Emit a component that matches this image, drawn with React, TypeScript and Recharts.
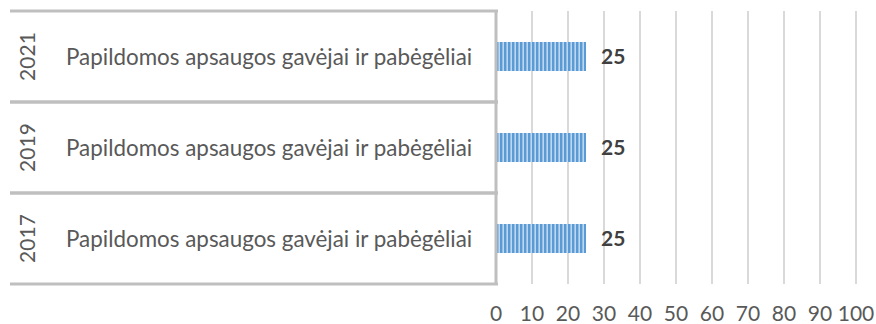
import React from 'react';
import { BarChart, Bar, XAxis, YAxis, CartesianGrid, LabelList } from 'recharts';

const years = ['2021', '2019', '2017'];
const categories = [
  'Papildomos apsaugos gavėjai ir pabėgėliai',
  'Papildomos apsaugos gavėjai ir pabėgėliai',
  'Papildomos apsaugos gavėjai ir pabėgėliai',
];
const values = [25, 25, 25];
const xTicks = [0, 10, 20, 30, 40, 50, 60, 70, 80, 90, 100];

const data = years.map((y, i) => ({ year: y, cat: categories[i], value: values[i] }));

const FONT = 'Lato, "Noto Sans", sans-serif';

const CatTick = (props: any) => {
  const { x, y, payload, index } = props;
  const half = payload.offset ?? 45;
  const cat = categories[index] ?? '';
  const leftEdge = 10;
  return (
    <g>
      <line x1={leftEdge} x2={x + 2} y1={y - half} y2={y - half} stroke="#BFBFBF" strokeWidth={3} />
      <line x1={leftEdge} x2={x + 2} y1={y + half} y2={y + half} stroke="#BFBFBF" strokeWidth={3} />
      <text
        x={26}
        y={y}
        transform={`rotate(-90, 26, ${y})`}
        textAnchor="middle"
        dominantBaseline="central"
        fontFamily={FONT}
        fontSize={21}
        fill="#595959"
      >
        {payload.value}
      </text>
      <text x={66} y={y} dominantBaseline="central" fontFamily={FONT} fontSize={22.4} fill="#595959">
        {cat}
      </text>
    </g>
  );
};

export default function App() {
  return (
    <div style={{ position: 'absolute', left: 0, top: 0, background: '#fff' }}>
      <BarChart
        width={876}
        height={324}
        layout="vertical"
        data={data}
        margin={{ top: 11, right: 20, bottom: 0, left: 0 }}
      >
        <defs>
          <pattern id="stripes" patternUnits="userSpaceOnUse" width={4} height={4}>
            <rect x={0} y={0} width={4} height={4} fill="#BDD7EE" />
            <rect x={0} y={0} width={2.4} height={4} fill="#5B9BD5" />
          </pattern>
        </defs>
        <CartesianGrid horizontal={false} stroke="#D9D9D9" strokeWidth={2} />
        <XAxis
          type="number"
          domain={[0, 100]}
          ticks={xTicks}
          height={40}
          axisLine={false}
          tickLine={false}
          tickMargin={16}
          interval={0}
          tick={{ fontFamily: FONT, fontSize: 21, fill: '#595959' }}
        />
        <YAxis
          type="category"
          dataKey="year"
          width={496}
          axisLine={{ stroke: '#BFBFBF', strokeWidth: 3 }}
          tickLine={false}
          tickSize={0}
          tickMargin={0}
          tick={<CatTick />}
        />
        <Bar dataKey="value" fill="url(#stripes)" barSize={29} isAnimationActive={false}>
          <LabelList
            dataKey="value"
            position="right"
            offset={15}
            style={{ fontFamily: FONT, fontSize: 21, fontWeight: 700, fill: '#404040' }}
          />
        </Bar>
      </BarChart>
    </div>
  );
}
